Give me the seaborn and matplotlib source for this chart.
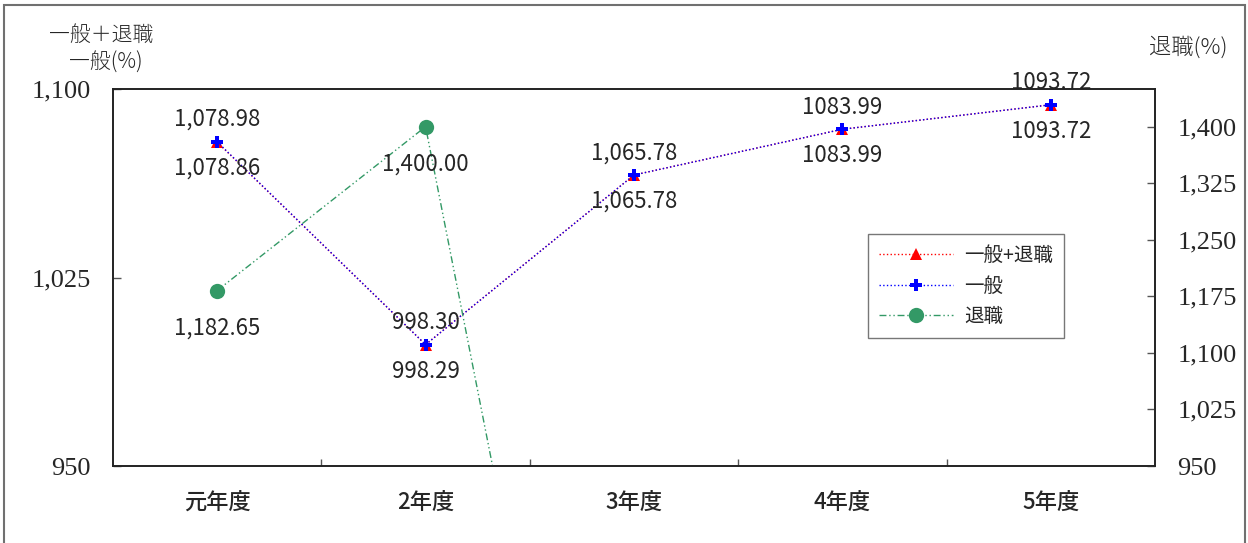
import seaborn as sns
import matplotlib.pyplot as plt
from matplotlib.patches import Rectangle
from matplotlib.ticker import FuncFormatter, FixedLocator, NullFormatter

years = ["元年度", "2年度", "3年度", "4年度", "5年度"]

total_vals = [1078.86, 998.29, 1065.78, 1083.99, 1093.72]
total_labels = ["1,078.86", "998.29", "1,065.78", "1083.99", "1093.72"]

general_vals = [1078.98, 998.30, 1065.78, 1083.99, 1093.72]
general_labels = ["1,078.98", "998.30", "1,065.78", "1083.99", "1093.72"]

retire_vals = [1182.65, 1400.00, 0.0, 0.0, 0.0]
retire_labels = ["1,182.65", "1,400.00", "", "", ""]

left_ticks = [950, 1025, 1100]
right_ticks = [950, 1025, 1100, 1175, 1250, 1325, 1400]

JP = "Noto Sans CJK JP"
SERIF = ["Liberation Serif", "Noto Sans CJK JP"]


def comma_fmt(y, pos):
    return f"{int(y):,}"


def label_points(ax, vals, labels, dy):
    for i, (v, t) in enumerate(zip(vals, labels)):
        lo, hi = ax.get_ylim()
        if not t or v < lo or v > hi:
            continue
        ax.annotate(t, (i, v), xytext=(0, dy), textcoords="offset points",
                    ha="center", va="center", fontsize=16, family=JP,
                    annotation_clip=False)


def main():
    sns.set_style("white")
    plt.rcParams["font.family"] = [JP, "DejaVu Sans"]

    fig = plt.figure(figsize=(12.48, 5.43), dpi=100)
    ax = fig.add_axes([0.0905, 0.1418, 0.835, 0.6943])
    ax2 = ax.twinx()

    fig.patches.append(Rectangle((0.0032, -0.01), 0.9944, 1.0008,
                                 transform=fig.transFigure, fill=False,
                                 edgecolor="#707070", linewidth=1.5))

    sns.lineplot(x=years, y=total_vals, ax=ax, color="red", linestyle=":",
                 linewidth=1, marker="^", markersize=9, markeredgewidth=0,
                 label="一般+退職", legend=False)
    sns.lineplot(x=years, y=general_vals, ax=ax, color="blue", linestyle=":",
                 linewidth=1, marker="P", markersize=9, markeredgewidth=0,
                 label="一般", legend=False)
    sns.lineplot(x=years, y=retire_vals, ax=ax2, color="#339966",
                 linestyle=(0, (5, 2, 1, 2, 1, 2)), linewidth=1, marker="o",
                 markersize=11, markeredgewidth=0, label="退職", legend=False)

    ax.set_xlim(-0.5, 4.5)
    ax.set_ylim(950, 1100)
    ax2.set_ylim(950, 1450)
    ax.set_yticks(left_ticks)
    ax2.set_yticks(right_ticks)
    ax.yaxis.set_major_formatter(FuncFormatter(comma_fmt))
    ax2.yaxis.set_major_formatter(FuncFormatter(comma_fmt))
    ax.set_xlabel("")
    ax.set_ylabel("")
    ax2.set_ylabel("")

    ax.xaxis.set_minor_locator(FixedLocator([0.5, 1.5, 2.5, 3.5]))
    ax.xaxis.set_minor_formatter(NullFormatter())
    ax.tick_params(axis="x", which="major", length=0, pad=18, labelsize=16)
    ax.tick_params(axis="x", which="minor", direction="in", length=5,
                   width=1, color="#555555", bottom=True)
    ax.tick_params(axis="y", direction="in", length=6, width=1,
                   color="#555555", pad=16, labelsize=19, left=True)
    ax2.tick_params(axis="y", direction="in", length=6, width=1,
                    color="#555555", pad=16, labelsize=19, right=True)
    for lab in ax.get_xticklabels():
        lab.set_family(JP)
        lab.set_weight("medium")
    for lab in ax.get_yticklabels() + ax2.get_yticklabels():
        lab.set_family(SERIF)

    for a in (ax, ax2):
        for s in a.spines.values():
            s.set_color("#222222")
            s.set_linewidth(1.2)

    label_points(ax, general_vals, general_labels, 16)
    label_points(ax, total_vals, total_labels, -19)
    label_points(ax2, retire_vals, retire_labels, -27)

    fig.text(0.081, 0.935, "一般＋退職", ha="center", va="center",
             fontsize=15, family=JP, weight="light")
    fig.text(0.085, 0.885, "一般(%)", ha="center", va="center",
             fontsize=15, family=JP, weight="light")
    fig.text(0.952, 0.913, "退職(%)", ha="center", va="center",
             fontsize=16, family=JP, weight="light")

    h1, l1 = ax.get_legend_handles_labels()
    h2, l2 = ax2.get_legend_handles_labels()
    leg = ax2.legend(h1 + h2, l1 + l2, loc="upper left",
                     bbox_to_anchor=(0.7246, 0.615), frameon=True,
                     fancybox=False, edgecolor="#555555",
                     handlelength=3.8, borderpad=0.55, labelspacing=0.5,
                     handletextpad=0.6, borderaxespad=0,
                     prop={"family": JP, "size": 14})
    leg.get_frame().set_linewidth(1)

    fig.savefig("out.png", dpi=100)


if __name__ == "__main__":
    main()
